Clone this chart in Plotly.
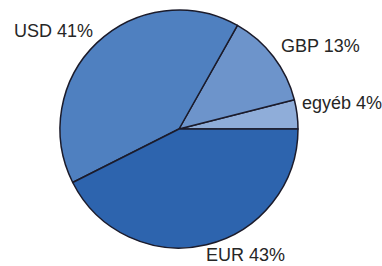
import plotly.graph_objects as go

labels = ["egyéb", "GBP", "USD", "EUR"]
values = [4, 13, 41, 43]
colors = ["#8fadd9", "#6d94cb", "#4f80c0", "#2d64ae"]

# label anchor positions (pixels from top-left) for outside labels
label_px = [(342, 103), (320, 46), (53, 31), (246, 255)]

W, H = 382, 266
fig = go.Figure(go.Pie(
    labels=labels, values=values, sort=False,
    direction="counterclockwise", rotation=90 - 360 * values[0] / sum(values),
    marker=dict(colors=colors, line=dict(color="#1b1b2b", width=1.5)),
    textinfo="none", hoverinfo="label+percent",
    domain=dict(x=[60 / W, 298 / W], y=[18 / H, 256 / H]),
    showlegend=False,
))

for lab, val, (px, py) in zip(labels, values, label_px):
    fig.add_annotation(
        text=f"{lab} {val}%", x=px / W, y=1 - py / H, xref="paper", yref="paper",
        showarrow=False, xanchor="center", yanchor="middle",
        font=dict(family="Liberation Sans, Arial", size=18, color="#262626"),
    )

fig.update_layout(width=W, height=H, margin=dict(l=0, r=0, t=0, b=0),
                  paper_bgcolor="white", plot_bgcolor="white")
fig.write_html("out.html", config={"displayModeBar": False},
               post_script="document.body.style.margin='0';")
